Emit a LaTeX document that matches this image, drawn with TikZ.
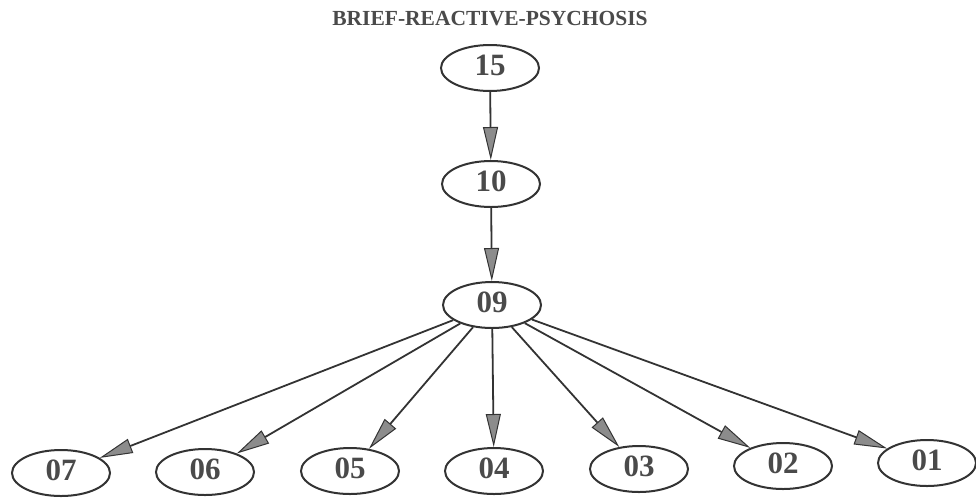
\documentclass[tikz,border=0pt]{standalone}
\usepackage{fontspec}
\setmainfont{Liberation Serif}
\usetikzlibrary{shapes.geometric,arrows.meta}
\definecolor{inkline}{HTML}{333333}
\definecolor{inktext}{HTML}{4A4A4A}
\definecolor{tipfill}{HTML}{8C8C8C}
\newcommand{\vlabel}[1]{\raisebox{5pt}{#1}}
\begin{document}
\begin{tikzpicture}[x=1pt,y=-1pt,
  vert/.style={ellipse, draw=inkline, line width=2pt, minimum width=98pt,
    minimum height=46pt, inner sep=0pt, text=inktext,
    font=\fontsize{31}{31}\selectfont\bfseries},
  edge/.style={draw=inkline, line width=1.8pt,
    -{Triangle[length=33pt,width=15pt,fill=tipfill,line width=1pt]}}]
\useasboundingbox (0,0) rectangle (976,499);
\node[text=inktext, font=\fontsize{21.5}{21.5}\selectfont\bfseries] (title) at (490,19) {BRIEF-REACTIVE-PSYCHOSIS};
\node[vert] (n15) at (490,68) {\vlabel{15}};
\node[vert] (n10) at (491,184) {\vlabel{10}};
\node[vert] (n09) at (492,305) {\vlabel{09}};
\node[vert] (n07) at (61,473) {\vlabel{07}};
\node[vert] (n06) at (205,472) {\vlabel{06}};
\node[vert] (n05) at (350,471) {\vlabel{05}};
\node[vert] (n04) at (494,471) {\vlabel{04}};
\node[vert] (n03) at (639,469) {\vlabel{03}};
\node[vert] (n02) at (783,466) {\vlabel{02}};
\node[vert] (n01) at (927,463) {\vlabel{01}};
\draw[edge] (n15) -- (n10);
\draw[edge] (n10) -- (n09);
\foreach \c in {07,06,05,04,03,02,01} {
  \draw[edge] (n09) -- (n\c);
}
\end{tikzpicture}
\end{document}
